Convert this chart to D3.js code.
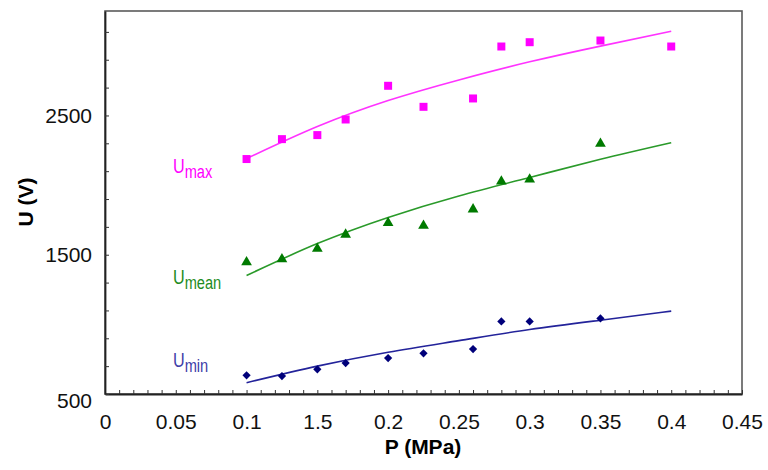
<!DOCTYPE html>
<html>
<head>
<meta charset="utf-8">
<script src="https://cdn.jsdelivr.net/npm/d3@7"></script>
<style>
  html, body { margin: 0; padding: 0; background: #fff; }
  svg { display: block; font-family: Arial, "Liberation Sans", Helvetica, sans-serif; }
</style>
</head>
<body>
<svg id="chart" width="768" height="470"></svg>
<script>
// Measured pressure values (MPa)
const pressure = [0.1, 0.125, 0.15, 0.17, 0.2, 0.225, 0.26, 0.28, 0.3, 0.35, 0.4];

// Measured voltages (V)
const uMax  = [2187, 2330, 2359, 2471, 2713, 2562, 2622, 2995, 3026, 3038, 2995];
const uMean = [1446, 1468, 1544, 1645, 1728, 1709, 1826, 2027, 2041, 2297, null];
const uMin  = [634, 629, 677, 722, 758, 792, 823, 1021, 1021, 1043, null];

// Trend curves sampled along the pressure range
const trendP    = [0.1, 0.15, 0.2, 0.25, 0.3, 0.35, 0.4];
const trendMax  = [2190, 2420, 2607, 2755, 2885, 2998, 3104];
const trendMean = [1351, 1580, 1768, 1922, 2055, 2185, 2304];
const trendMin  = [581, 700, 800, 883, 963, 1030, 1095];

// Axis ticks
const xLabelValues = [0, 0.05, 0.1, 0.15, 0.2, 0.25, 0.3, 0.35, 0.4, 0.45];
const xLabels = ["0", "0.05", "0.1", "1.5", "0.2", "0.25", "0.3", "0.35", "0.4", "0.45"];
const yLabelValues = [500, 1500, 2500];
const yLabels = ["500", "1500", "2500"];

const svg = d3.select("#chart");

const x = d3.scaleLinear().domain([0, 0.45]).range([105, 742]);
const y = d3.scaleLinear().domain([500, 3250]).range([394, 11]);

// Plot frame (top/right)
svg.append("rect")
  .attr("x", x(0)).attr("y", y(3250))
  .attr("width", x(0.45) - x(0)).attr("height", y(500) - y(3250))
  .attr("fill", "none").attr("stroke", "#5a5a5a").attr("stroke-width", 1.6);

// Minor/major tick marks, pointing inward
const xMinor = d3.range(0, 0.4501, 0.01).map(v => +v.toFixed(2));
const yMinor = d3.range(500, 3250, 200);

const xTickAxis = d3.axisBottom(x).tickValues(xMinor).tickSize(-4).tickFormat("").tickSizeOuter(0);
const gxT = svg.append("g").attr("transform", `translate(0,${y(500)})`).call(xTickAxis);
gxT.select(".domain").attr("stroke", "#222").attr("stroke-width", 1.8);
gxT.selectAll(".tick line").attr("stroke", "#333").attr("stroke-width", 1);

const yTickAxis = d3.axisLeft(y).tickValues(yMinor).tickSize(-4).tickFormat("").tickSizeOuter(0);
const gyT = svg.append("g").attr("transform", `translate(${x(0)},0)`).call(yTickAxis);
gyT.select(".domain").attr("stroke", "#222").attr("stroke-width", 1.8);
gyT.selectAll(".tick line").attr("stroke", "#333").attr("stroke-width", 1);

// Tick labels
const xLabelAxis = d3.axisBottom(x).tickValues(xLabelValues)
  .tickFormat((d, i) => xLabels[i]).tickSize(0).tickPadding(20);
const gxL = svg.append("g").attr("transform", `translate(0,${y(500)})`).call(xLabelAxis);
gxL.select(".domain").remove();
gxL.selectAll("text").attr("font-size", 21).attr("fill", "#111")
  .attr("font-family", "Arial, 'Liberation Sans', sans-serif");

const yLabelAxis = d3.axisLeft(y).tickValues(yLabelValues)
  .tickFormat((d, i) => yLabels[i]).tickSize(0).tickPadding(13);
const gyL = svg.append("g").attr("transform", `translate(${x(0)},0)`).call(yLabelAxis);
gyL.select(".domain").remove();
gyL.selectAll("text").attr("font-size", 21).attr("fill", "#111")
  .attr("font-family", "Arial, 'Liberation Sans', sans-serif");
gyL.selectAll(".tick").filter(d => d === 500).select("text").attr("dy", "0.65em");

// Axis titles
svg.append("text")
  .attr("x", 423).attr("y", 454)
  .attr("text-anchor", "middle")
  .attr("font-size", 21).attr("font-weight", "bold").attr("fill", "#000")
  .text("P (MPa)");

svg.append("text")
  .attr("transform", "translate(33,202) rotate(-90)")
  .attr("text-anchor", "middle")
  .attr("font-size", 21).attr("font-weight", "bold").attr("fill", "#000")
  .text("U (V)");

// Series
const series = [
  { vals: uMax,  trend: trendMax,  color: "#ff00ff", line: "#ff33ff", shape: d3.symbolSquare,   size: 64, rot: 0,  label: "max",  lc: "#ff00ff", lx: 173, ly: 173 },
  { vals: uMean, trend: trendMean, color: "#007a00", line: "#2a9a2a", shape: d3.symbolTriangle, size: 50, rot: 0,  label: "mean", lc: "#1e8c1e", lx: 173, ly: 284 },
  { vals: uMin,  trend: trendMin,  color: "#00007a", line: "#23239a", shape: d3.symbolSquare,   size: 34, rot: 45, label: "min",  lc: "#4040a8", lx: 173, ly: 367 }
];

const line = d3.line()
  .x((d, i) => x(trendP[i]))
  .y(d => y(d))
  .curve(d3.curveNatural);

series.forEach(s => {
  svg.append("path")
    .attr("d", line(s.trend))
    .attr("fill", "none")
    .attr("stroke", s.line)
    .attr("stroke-width", 1.6);

  svg.append("g").selectAll("path")
    .data(pressure.map((p, i) => ({ p, v: s.vals[i] })).filter(d => d.v != null))
    .join("path")
    .attr("transform", d => `translate(${x(d.p)},${y(d.v)}) rotate(${s.rot})`)
    .attr("d", d3.symbol().type(s.shape).size(s.size))
    .attr("fill", s.color);

  const t = svg.append("text")
    .attr("transform", `translate(${s.lx},${s.ly}) scale(0.77,1)`)
    .attr("fill", s.lc);
  t.append("tspan").attr("font-size", 21).text("U");
  t.append("tspan").attr("font-size", 19).attr("dy", 5).text(s.label);
});
</script>
</body>
</html>
